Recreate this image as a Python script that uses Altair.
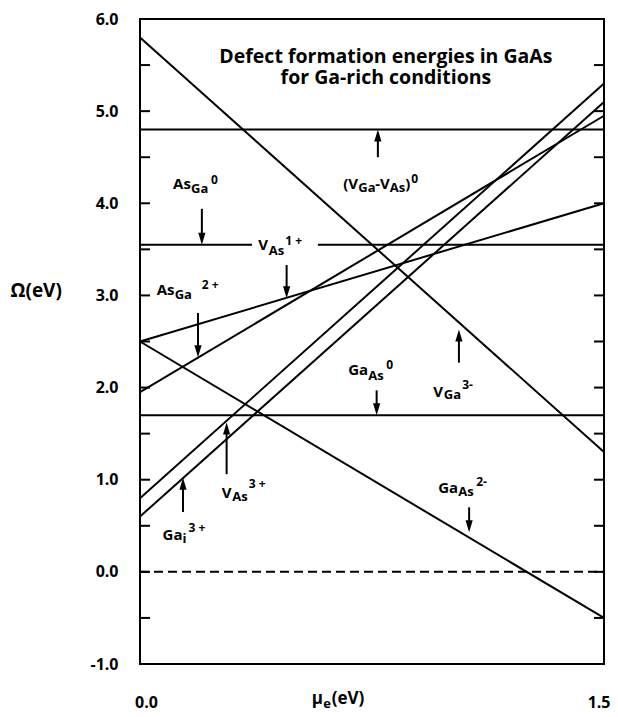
import altair as alt
import pandas as pd

W, H = 464, 645
MU_DOMAIN = [0.0, 1.5]
OM_DOMAIN = [-1.0, 6.0]
PX_PER_MU = W / (MU_DOMAIN[1] - MU_DOMAIN[0])
PX_PER_OM = H / (OM_DOMAIN[1] - OM_DOMAIN[0])
FONT = "Open Sans"

# ---- defect formation-energy lines (end points) ----
line_names = ["V_Ga 3-", "(V_Ga-V_As) 0", "As_Ga 0 (left)", "As_Ga 0 (right)", "V_As 1+",
              "As_Ga 2+", "V_As 3+", "Ga_i 3+", "Ga_As 0", "Ga_As 2-"]
line_mu_start = [0.0, 0.0, 0.0, 0.575, 0.0, 0.0, 0.0, 0.0, 0.0, 0.0]
line_mu_end = [1.5, 1.5, 0.362, 1.5, 1.5, 1.5, 1.5, 1.5, 1.5, 1.5]
line_om_start = [5.8, 4.8, 3.55, 3.55, 2.5, 1.95, 0.8, 0.6, 1.7, 2.5]
line_om_end = [1.3, 4.8, 3.55, 3.55, 4.0, 4.95, 5.3, 5.1, 1.7, -0.5]

# dashed zero reference
zero_mu = [0.0, 1.5]
zero_om = [0.0, 0.0]

# ---- arrows pointing from labels to lines ----
arrow_mu = [0.769, 0.2, 0.474, 0.1875, 0.765, 1.031, 1.064, 0.28, 0.139]
arrow_tail = [4.50, 3.94, 3.33, 2.81, 1.97, 2.27, 0.70, 1.06, 0.65]
arrow_tip = [4.80, 3.55, 2.97, 2.33, 1.70, 2.63, 0.43, 1.62, 1.02]

# ---- axis ticks / labels ----
y_tick_values = [-0.5, 0.0, 0.5, 1.0, 1.5, 2.0, 2.5, 3.0, 3.5, 4.0, 4.5, 5.0, 5.5]
y_label_values = [-1, 0, 1, 2, 3, 4, 5, 6]
x_label_values = [0.0, 1.5]

# ---- labels: base position (mu, omega) and pieces (text, size, dx px, dy px) ----
label_mu = [0.107, 0.054, 0.382, 0.657, 0.673, 0.948, 0.964, 0.264, 0.073, 0.555]
label_om = [4.153, 3.008, 3.491, 4.153, 2.132, 1.899, 0.854, 0.800, 0.342, -1.43]
label_pieces = [
    [("As", 15, 0, 0), ("Ga", 13, 18, 4), ("0", 12, 38, -5)],
    [("As", 15, 0, 0), ("Ga", 13, 18, 4), ("2 +", 12, 45, -6)],
    [("V", 15, 0, 0), ("As", 13, 10.5, 5), ("1 +", 12, 27, -5)],
    [("(V", 15, 0, 0), ("Ga", 13, 15, 3), ("-V", 15, 32, 0), ("As", 13, 46.5, 3),
     (")", 15, 62, 0), ("0", 12, 68, -6)],
    [("Ga", 15, 0, 0), ("As", 13, 20, 5), ("0", 12, 38, -6)],
    [("V", 15, 0, 0), ("Ga", 13, 10.5, 2), ("3-", 12, 29, -8)],
    [("Ga", 15, 0, 0), ("As", 13, 20, 3), ("2-", 12, 38, -7)],
    [("V", 15, 0, 0), ("As", 13, 10.5, 3), ("3 +", 12, 27, -10)],
    [("Ga", 15, 0, 0), ("i", 13, 20, 3), ("3 +", 12, 26, -8)],
    [("μ", 17, 0, 0), ("e", 13, 11.5, 4), ("(eV)", 17, 20, 0)],
]

title_text = "Defect formation energies in GaAs\nfor Ga-rich conditions"
title_mu = 0.795
title_om = 5.524

# ---------------- tables ----------------
lines_df = pd.DataFrame({
    "name": line_names, "mu0": line_mu_start, "mu1": line_mu_end,
    "om0": line_om_start, "om1": line_om_end,
})
zero_df = pd.DataFrame({"mu0": [zero_mu[0]], "mu1": [zero_mu[1]],
                        "om0": [zero_om[0]], "om1": [zero_om[1]]})

DOWN_HEAD = "M0,0L-0.3,-1L0.3,-1Z"
UP_HEAD = "M0,0L-0.3,1L0.3,1Z"
HEAD_LEN = 12
arrows = []
for m, t, p in zip(arrow_mu, arrow_tail, arrow_tip):
    up = p > t
    shaft_end = p - (1 if up else -1) * (HEAD_LEN / 2) / PX_PER_OM
    arrows.append({"mu": m, "tail": t, "tip": p, "shaft_end": shaft_end,
                   "shape": UP_HEAD if up else DOWN_HEAD})
arrows_df = pd.DataFrame(arrows)

pieces = []
for bm, bo, plist in zip(label_mu, label_om, label_pieces):
    for text, size, dx, dy in plist:
        pieces.append({"text": text, "size": size,
                       "mu": bm + dx / PX_PER_MU, "om": bo - dy / PX_PER_OM})
pieces_df = pd.DataFrame(pieces)

title_df = pd.DataFrame({"text": [title_text], "mu": [title_mu], "om": [title_om]})
ticks_df = pd.DataFrame({"om": y_tick_values})

xs = alt.Scale(domain=MU_DOMAIN, nice=False, zero=False)
ys = alt.Scale(domain=OM_DOMAIN, nice=False, zero=False)

x_axis = alt.Axis(values=x_label_values, format=".1f", ticks=False, domain=False, grid=False,
                  labelPadding=30, labelFontSize=16, labelFontWeight="bold", labelFont=FONT,
                  labelColor="black", labelOffset=6, labelFlush=False,
                  labelAlign={"condition": {"test": "datum.value > 1", "value": "right"},
                              "value": "center"},
                  title="")
y_axis = alt.Axis(values=y_label_values, ticks=False, domain=False, grid=False,
                  labelExpr="replace(format(datum.value, '.1f'), '\u2212', '-')",
                  labelPadding=22, labelFontSize=16, labelFontWeight="bold", labelFont=FONT,
                  labelColor="black", title="Ω(eV)", titleAngle=0, titleX=-130, titleY=271,
                  titleAlign="left", titleBaseline="middle", titleFontSize=19,
                  titleFontWeight="bold", titleFont=FONT, titleColor="black")

base_lines = alt.Chart(lines_df).mark_rule(color="black", strokeWidth=2).encode(
    x=alt.X("mu0:Q", scale=xs, axis=x_axis),
    x2="mu1:Q",
    y=alt.Y("om0:Q", scale=ys, axis=y_axis),
    y2="om1:Q",
)

zero_line = alt.Chart(zero_df).mark_rule(color="black", strokeWidth=2, strokeDash=[9, 5]).encode(
    x=alt.X("mu0:Q", scale=xs), x2="mu1:Q",
    y=alt.Y("om0:Q", scale=ys), y2="om1:Q",
)

left_ticks = alt.Chart(ticks_df).mark_rule(color="black", strokeWidth=2).encode(
    x=alt.value(0), x2=alt.value(10), y=alt.Y("om:Q", scale=ys))
right_ticks = alt.Chart(ticks_df).mark_rule(color="black", strokeWidth=2).encode(
    x=alt.value(W - 10), x2=alt.value(W), y=alt.Y("om:Q", scale=ys))

shafts = alt.Chart(arrows_df).mark_rule(color="black", strokeWidth=2).encode(
    x=alt.X("mu:Q", scale=xs),
    y=alt.Y("tail:Q", scale=ys), y2="shaft_end:Q",
)
heads = alt.Chart(arrows_df).mark_point(filled=True, color="black", opacity=1,
                                        size=(2 * HEAD_LEN) ** 2, strokeWidth=0).encode(
    x=alt.X("mu:Q", scale=xs),
    y=alt.Y("tip:Q", scale=ys),
    shape=alt.Shape("shape:N", scale=None, legend=None),
)

labels = alt.Chart(pieces_df).mark_text(align="left", baseline="alphabetic", font=FONT,
                                        fontWeight="bold", color="black").encode(
    x=alt.X("mu:Q", scale=xs),
    y=alt.Y("om:Q", scale=ys),
    text="text:N",
    size=alt.Size("size:Q", scale=None, legend=None),
)

title = alt.Chart(title_df).mark_text(align="center", baseline="alphabetic", font=FONT,
                                      fontWeight="bold", fontSize=19.5, color="black",
                                      lineBreak="\n", lineHeight=21).encode(
    x=alt.X("mu:Q", scale=xs),
    y=alt.Y("om:Q", scale=ys),
    text="text:N",
)

chart = alt.layer(base_lines, zero_line, left_ticks, right_ticks, shafts, heads, labels, title).properties(
    width=W, height=H,
    background="white",
    autosize=alt.AutoSizeParams(type="none"),
    padding={"left": 132, "top": 11, "right": 6, "bottom": 48},
).configure_view(stroke="black", strokeWidth=2)

chart.save("out.html", embed_options={"renderer": "svg", "actions": False})
